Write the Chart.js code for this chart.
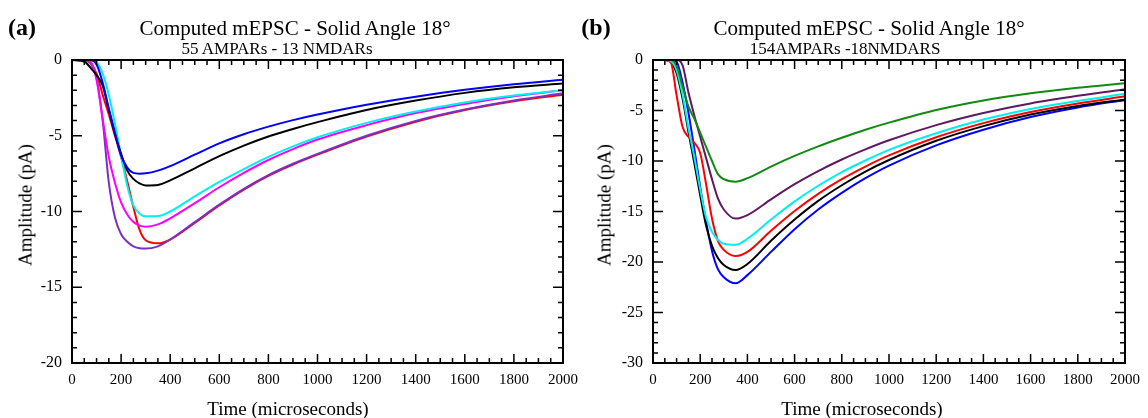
<!DOCTYPE html>
<html>
<head>
<meta charset="utf-8">
<script src="https://cdn.jsdelivr.net/npm/chart.js@4.4.1/dist/chart.umd.min.js"></script>
<style>
  body { margin: 0; background: #fff; width: 1148px; height: 418px; position: relative; overflow: hidden; font-family: "Liberation Serif", "DejaVu Serif", serif; }
  canvas { position: absolute; top: 0; }
  .t { position: absolute; transform: translate(-50%, -50%); line-height: 1; white-space: nowrap; color: #000; }
  .rot { transform: translate(-50%, -50%) rotate(-90deg); }
</style>
</head>
<body>
<canvas id="chartA" width="600" height="418" style="left:0"></canvas>
<canvas id="chartB" width="574" height="418" style="left:574px"></canvas>

<div class="t" style="left:22px;top:27px;font-size:24px;font-weight:bold">(a)</div>
<div class="t" style="left:295px;top:28px;font-size:21px">Computed mEPSC - Solid Angle 18°</div>
<div class="t" style="left:277px;top:48px;font-size:17px">55 AMPARs - 13 NMDARs</div>
<div class="t rot" style="left:25px;top:205px;font-size:19px">Amplitude (pA)</div>
<div class="t" style="left:288px;top:408px;font-size:19px">Time (microseconds)</div>

<div class="t" style="left:596px;top:27px;font-size:24px;font-weight:bold">(b)</div>
<div class="t" style="left:869px;top:28px;font-size:21px">Computed mEPSC - Solid Angle 18°</div>
<div class="t" style="left:845px;top:48px;font-size:17px">154AMPARs -18NMDARS</div>
<div class="t rot" style="left:604px;top:205px;font-size:19px">Amplitude (pA)</div>
<div class="t" style="left:862px;top:408px;font-size:19px">Time (microseconds)</div>

<script>
// time points (microseconds), shared by every curve
const timeUs = [0, 50, 75, 100, 125, 150, 175, 200, 225, 250, 275, 300, 350, 400, 500, 600, 700, 800, 900, 1000, 1200, 1400, 1600, 1800, 2000];

// panel (a): 55 AMPARs - 13 NMDARs
const aBlue    = [0, 0, 0, -0.3, -1.5, -3.2, -4.8, -6.3, -7.1, -7.45, -7.5, -7.48, -7.3, -7.0, -6.25, -5.5, -4.9, -4.4, -3.97, -3.6, -2.95, -2.42, -1.97, -1.6, -1.3];
const aBlack   = [0, -0.1, -0.5, -1.0, -1.7, -3.3, -4.9, -6.2, -7.3, -7.85, -8.15, -8.28, -8.25, -7.95, -7.15, -6.35, -5.65, -5.05, -4.55, -4.1, -3.3, -2.68, -2.17, -1.8, -1.55];
const aCyan    = [0, 0, 0, -0.15, -0.9, -2.3, -4.2, -6.3, -8.3, -9.6, -10.15, -10.32, -10.3, -10.0, -9.0, -8.05, -7.2, -6.4, -5.7, -5.1, -4.15, -3.4, -2.8, -2.35, -2.0];
const aMagenta = [0, 0, -0.1, -1.3, -3.9, -6.4, -8.1, -9.4, -10.2, -10.7, -10.93, -11.0, -10.85, -10.45, -9.45, -8.4, -7.45, -6.6, -5.88, -5.25, -4.3, -3.5, -2.9, -2.4, -2.0];
const aPurple  = [0, 0, -0.2, -1.2, -4.0, -8.1, -10.4, -11.5, -12.0, -12.3, -12.42, -12.45, -12.3, -11.85, -10.7, -9.55, -8.5, -7.6, -6.85, -6.2, -5.0, -4.02, -3.27, -2.67, -2.2];
const aRed     = [0, 0, -0.2, -0.9, -2.3, -3.6, -5.0, -6.4, -8.0, -9.7, -11.2, -11.9, -12.1, -11.85, -10.75, -9.6, -8.55, -7.65, -6.9, -6.25, -5.05, -4.07, -3.3, -2.72, -2.3];

// panel (b): 154 AMPARs - 18 NMDARs
const bGreen  = [0, 0, 0, -0.6, -2.6, -4.6, -5.8, -7.2, -8.6, -10.0, -11.3, -11.8, -12.05, -11.7, -10.55, -9.5, -8.55, -7.7, -6.9, -6.2, -4.95, -4.0, -3.3, -2.75, -2.3];
const bPurple = [0, 0, 0, 0, -0.5, -3.2, -5.5, -7.6, -9.7, -11.8, -13.7, -14.8, -15.7, -15.35, -13.8, -12.3, -11.0, -9.85, -8.85, -7.95, -6.45, -5.25, -4.3, -3.55, -2.9];
const bCyan   = [0, 0, -0.1, -1.0, -3.4, -6.7, -9.6, -12.8, -15.6, -17.0, -17.8, -18.2, -18.3, -17.7, -15.8, -14.0, -12.45, -11.1, -9.95, -8.9, -7.25, -5.9, -4.85, -4.05, -3.35];
const bRed    = [0, 0, -0.2, -3.5, -6.6, -7.6, -8.2, -9.2, -12.3, -15.7, -17.9, -18.8, -19.4, -19.0, -16.9, -14.95, -13.25, -11.8, -10.55, -9.45, -7.65, -6.25, -5.15, -4.3, -3.6];
const bBlack  = [0, 0, -0.2, -1.3, -3.8, -7.1, -10.2, -13.4, -16.4, -18.4, -19.6, -20.3, -20.8, -20.2, -17.9, -15.8, -13.95, -12.4, -11.05, -9.9, -8.0, -6.55, -5.4, -4.55, -3.9];
const bBlue   = [0, 0, 0, -0.2, -2.2, -5.2, -8.8, -12.6, -16.0, -18.9, -20.7, -21.5, -22.1, -21.3, -19.0, -16.75, -14.8, -13.15, -11.7, -10.45, -8.45, -6.9, -5.65, -4.7, -3.95];

// box frame with inward major/minor ticks on all four sides
const boxTicks = {
    id: 'boxTicks',
    afterDraw(chart, args, opts) {
        const ctx = chart.ctx;
        const a = chart.chartArea;
        const xs = chart.scales.x;
        const ys = chart.scales.y;
        ctx.save();
        ctx.strokeStyle = '#000';
        ctx.lineWidth = 1.5;
        ctx.beginPath();
        for (let v = xs.min; v <= xs.max; v += opts.xMinor) {
            const p = xs.getPixelForValue(v);
            const len = v % opts.xMajor === 0 ? 9 : 5;
            ctx.moveTo(p, a.bottom); ctx.lineTo(p, a.bottom - len);
            ctx.moveTo(p, a.top); ctx.lineTo(p, a.top + len);
        }
        for (let v = ys.min; v <= ys.max; v += opts.yMinor) {
            const p = ys.getPixelForValue(v);
            const len = v % opts.yMajor === 0 ? 10 : 5;
            ctx.moveTo(a.left, p); ctx.lineTo(a.left + len, p);
            ctx.moveTo(a.right, p); ctx.lineTo(a.right - len, p);
        }
        ctx.stroke();
        ctx.lineWidth = 2;
        ctx.strokeRect(a.left, a.top, a.right - a.left, a.bottom - a.top);
        ctx.restore();
    }
};

function toPoints(values) {
    return values.map((v, i) => ({ x: timeUs[i], y: v }));
}

function makeChart(id, series, yMin, yWidth, padRight) {
    return new Chart(document.getElementById(id), {
        type: 'line',
        data: {
            datasets: series.map(s => ({
                data: toPoints(s.values),
                borderColor: s.color,
                borderWidth: 2,
                pointRadius: 0,
                fill: false,
                cubicInterpolationMode: 'monotone'
            }))
        },
        options: {
            responsive: false,
            animation: false,
            layout: { padding: { left: 0, top: 60, right: padRight, bottom: 0 } },
            plugins: {
                legend: { display: false },
                tooltip: { enabled: false },
                boxTicks: { xMinor: 50, xMajor: 200, yMinor: 1, yMajor: 5 }
            },
            scales: {
                x: {
                    type: 'linear',
                    min: 0,
                    max: 2000,
                    grid: { display: false, drawTicks: false },
                    border: { display: false },
                    ticks: {
                        stepSize: 200, autoSkip: false, maxRotation: 0, padding: 8, color: '#000',
                        font: { family: 'Liberation Serif', size: 15 },
                        callback: v => String(v)
                    },
                    afterFit(scale) { scale.height = 55; }
                },
                y: {
                    type: 'linear',
                    min: yMin,
                    max: 0,
                    grid: { display: false, drawTicks: false },
                    border: { display: false },
                    ticks: {
                        stepSize: 5, padding: 10, color: '#000',
                        font: { family: 'Liberation Serif', size: 16 },
                        callback: v => String(v)
                    },
                    afterFit(scale) { scale.width = yWidth; }
                }
            }
        },
        plugins: [boxTicks]
    });
}

makeChart('chartA', [
    { values: aBlue, color: '#0000ff' },
    { values: aBlack, color: '#000000' },
    { values: aCyan, color: '#00f0f0' },
    { values: aMagenta, color: '#ff00ff' },
    { values: aPurple, color: '#7a30c4' },
    { values: aRed, color: '#ff0000' }
], -20, 72, 37);

makeChart('chartB', [
    { values: bGreen, color: '#128a12' },
    { values: bPurple, color: '#5e1a5e' },
    { values: bCyan, color: '#00f0f0' },
    { values: bRed, color: '#ff0000' },
    { values: bBlack, color: '#000000' },
    { values: bBlue, color: '#0000ff' }
], -30, 79, 18);
</script>
</body>
</html>
